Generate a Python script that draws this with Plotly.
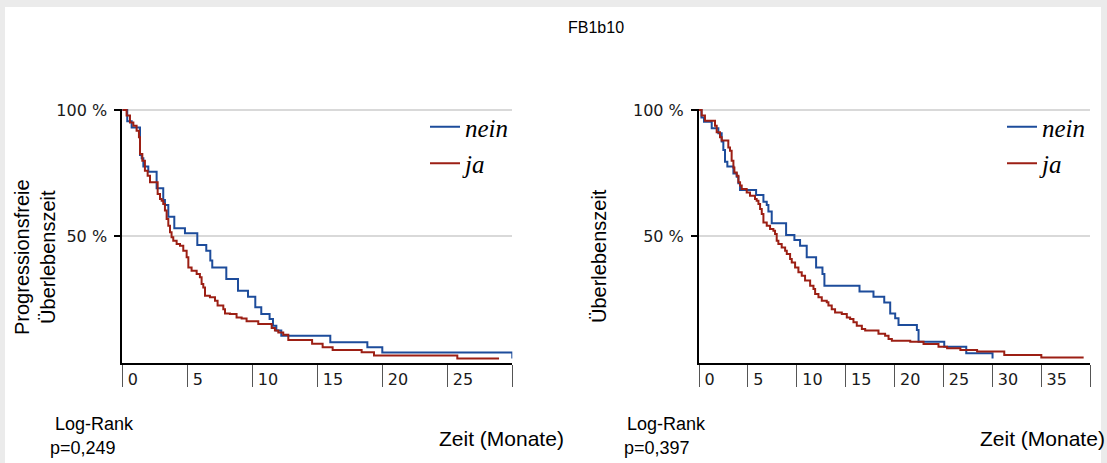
import plotly.graph_objects as go

# Kaplan-Meier curves (time in months, survival fraction)
pfs_nein_t = [0, 0.38, 0.72, 1.36, 1.49, 1.62, 2.0, 2.64, 3.15, 3.28, 3.54, 4.0, 4.82, 5.77, 6.46, 6.77,
              6.92, 8.0, 8.9, 9.67, 10.23, 10.69, 11.33, 11.59, 11.85, 12.23, 16.0, 18.85, 20.0, 30.0]
pfs_nein_s = [1.0, 0.956, 0.931, 0.822, 0.809, 0.776, 0.756, 0.690, 0.644, 0.624, 0.578, 0.532, 0.512, 0.466,
              0.443, 0.404, 0.377, 0.331, 0.285, 0.261, 0.219, 0.193, 0.173, 0.146, 0.127, 0.107, 0.081,
              0.061, 0.040, 0.017]

pfs_ja_t = [0, 0.33, 0.59, 0.85, 1.10, 1.28, 1.36, 1.54, 1.74, 1.95, 2.13, 2.72, 2.90, 3.03, 3.15, 3.28,
            3.41, 3.54, 3.67, 3.79, 3.92, 4.18, 4.44, 4.69, 4.95, 5.08, 5.33, 5.72, 5.97, 6.10, 6.23, 6.36,
            6.74, 7.13, 7.33, 7.77, 7.90, 8.28, 8.79, 9.18, 9.56, 10.46, 11.49, 11.74, 12.0, 12.38, 12.77,
            14.6, 15.41, 16.18, 18.41, 19.36, 25.77, 28.98]
pfs_ja_s = [1.0, 0.978, 0.951, 0.938, 0.918, 0.892, 0.826, 0.799, 0.760, 0.740, 0.714, 0.668, 0.648, 0.641,
            0.628, 0.602, 0.569, 0.542, 0.516, 0.496, 0.483, 0.470, 0.463, 0.443, 0.417, 0.377, 0.364, 0.351,
            0.338, 0.311, 0.298, 0.265, 0.259, 0.245, 0.226, 0.212, 0.195, 0.193, 0.179, 0.175, 0.164, 0.153,
            0.137, 0.127, 0.120, 0.111, 0.090, 0.075, 0.061, 0.050, 0.041, 0.028, 0.017, 0.017]

os_nein_t = [0, 0.25, 0.51, 1.30, 1.98, 2.32, 2.49, 2.66, 2.90, 3.52, 3.86, 4.03, 4.20, 5.84, 6.59, 6.93,
             7.10, 7.44, 8.91, 9.76, 10.34, 11.02, 11.98, 12.63, 12.83, 16.42, 17.85, 18.95, 19.56, 20.07,
             20.41, 22.29, 22.46, 25.09, 27.34, 30.03]
os_nein_s = [1.0, 0.97, 0.954, 0.928, 0.908, 0.875, 0.842, 0.795, 0.776, 0.749, 0.736, 0.710, 0.683, 0.664,
             0.637, 0.624, 0.598, 0.552, 0.505, 0.486, 0.463, 0.417, 0.377, 0.351, 0.305, 0.282, 0.261,
             0.238, 0.195, 0.176, 0.149, 0.129, 0.083, 0.063, 0.037, 0.017]

os_ja_t = [0, 0.27, 0.61, 1.64, 1.81, 2.15, 2.32, 3.0, 3.17, 3.34, 3.52, 3.62, 3.86, 4.03, 4.20, 4.37, 4.88,
           5.22, 5.73, 5.90, 6.08, 6.25, 6.42, 6.59, 6.93, 7.27, 7.61, 7.78, 7.95, 8.12, 8.46, 8.81, 8.98,
           9.32, 9.49, 9.83, 10.17, 10.51, 10.85, 11.37, 11.71, 11.88, 12.22, 12.56, 13.07, 13.24, 13.58,
           13.92, 14.61, 15.12, 15.46, 15.80, 16.14, 16.66, 17.0, 18.36, 19.04, 19.39, 19.73, 21.61, 22.97,
           24.5, 25.38, 26.74, 28.45, 31.23, 35.02, 39.35]
os_ja_s = [1.0, 0.978, 0.958, 0.938, 0.912, 0.892, 0.879, 0.852, 0.839, 0.799, 0.773, 0.753, 0.740, 0.714,
           0.701, 0.687, 0.674, 0.661, 0.648, 0.641, 0.628, 0.608, 0.588, 0.555, 0.542, 0.529, 0.522, 0.509,
           0.483, 0.470, 0.456, 0.443, 0.430, 0.410, 0.397, 0.377, 0.358, 0.344, 0.325, 0.305, 0.292, 0.272,
           0.259, 0.245, 0.239, 0.226, 0.212, 0.199, 0.193, 0.179, 0.173, 0.160, 0.146, 0.133, 0.127, 0.115,
           0.107, 0.094, 0.087, 0.083, 0.074, 0.063, 0.057, 0.050, 0.044, 0.030, 0.021, 0.021]

left_ticks = [0, 5, 10, 15, 20, 25, 30]
right_ticks = [0, 5, 10, 15, 20, 25, 30, 35, 40]
y_ticks = [0.5, 1.0]
y_ticktext = ["50 %", "100 %"]

W, H = 1107, 463
BLUE = "#1d4c9b"
RED = "#9c1f14"


def px(x):
    return x / W


def py(y):
    return 1 - y / H


fig = go.Figure()

# %%
for t, s, name, col, ax, lg in [
    (pfs_nein_t, pfs_nein_s, "nein", BLUE, "", "legend"),
    (pfs_ja_t, pfs_ja_s, "ja", RED, "", "legend"),
    (os_nein_t, os_nein_s, "nein", BLUE, "2", "legend2"),
    (os_ja_t, os_ja_s, "ja", RED, "2", "legend2"),
]:
    fig.add_trace(go.Scatter(x=t, y=s, name=name, mode="lines", line=dict(color=col, width=2, shape="hv"),
                             xaxis="x" + ax, yaxis="y" + ax, legend=lg, legendgroup=lg + name))

tickfont = dict(family="DejaVu Sans", size=16, color="#1a1a1a")
xcommon = dict(showgrid=False, zeroline=False, showline=True, linecolor="black", linewidth=2,
               ticks="outside", ticklen=22, tickwidth=1, tickcolor="#555",
               ticklabelposition="outside right", ticklabelstandoff=1, ticklabelshift=4,
               tickfont=tickfont, automargin=False)
ycommon = dict(showgrid=True, gridcolor="#d9d9d9", gridwidth=2, zeroline=False, showline=True,
               linecolor="black", linewidth=2, ticks="outside", ticklen=6, tickwidth=2, tickcolor="black",
               tickvals=y_ticks, ticktext=y_ticktext, range=[0, 1.006], tickfont=tickfont,
               ticklabelstandoff=4, domain=[py(362.7), py(108.5)], automargin=False)

legfont = dict(family="Liberation Serif", size=25, style="italic", color="black")
fig.update_layout(
    width=W, height=H,
    margin=dict(l=0, r=0, t=0, b=0),
    paper_bgcolor="#ebebeb", plot_bgcolor="rgba(0,0,0,0)",
    xaxis=dict(range=[0, 30], tickvals=left_ticks, ticktext=[str(v) for v in left_ticks[:-1]] + [""],
               domain=[px(122.3), px(512.3)], anchor="y", **xcommon),
    yaxis=dict(anchor="x", **ycommon),
    xaxis2=dict(range=[0, 40], tickvals=right_ticks, ticktext=[str(v) for v in right_ticks[:-1]] + [""],
                domain=[px(699), px(1090)], anchor="y2", **xcommon),
    yaxis2=dict(anchor="x2", **ycommon),
    legend=dict(x=px(425), y=py(104), xanchor="left", yanchor="top", bgcolor="rgba(0,0,0,0)",
                font=legfont, tracegroupgap=1),
    legend2=dict(x=px(1002), y=py(104), xanchor="left", yanchor="top", bgcolor="rgba(0,0,0,0)",
                 font=legfont, tracegroupgap=1),
    showlegend=True,
)

# white panel on the light grey frame
fig.add_shape(type="rect", xref="paper", yref="paper", x0=px(5), x1=px(1101), y0=0, y1=py(7),
              fillcolor="white", line_width=0, layer="below")

sans = dict(family="Liberation Sans", color="black")
notes = [
    ("FB1b10", 596, 27, "center", 16, 0),
    ("Log-Rank", 53, 424, "left", 18, 0),
    ("p=0,249", 48, 448, "left", 18, 0),
    ("Zeit (Monate)", 437, 438, "left", 21, 0),
    ("Log-Rank", 625, 424, "left", 18, 0),
    ("p=0,397", 622, 448, "left", 18, 0),
    ("Zeit (Monate)", 978, 438, "left", 21, 0),
    ("Progressionsfreie<br>Überlebenszeit", 35, 257, "center", 20, -90),
    ("Überlebenszeit", 599, 256, "center", 20, -90),
]
for text, x, y, anchor, size, angle in notes:
    fig.add_annotation(text=text, x=px(x), y=py(y), xref="paper", yref="paper", xanchor=anchor,
                       yanchor="middle", showarrow=False, textangle=angle,
                       font=dict(size=size, **sans))

fig.write_html("out.html", config={"displayModeBar": False},
               post_script="document.body.style.margin='0px';")
